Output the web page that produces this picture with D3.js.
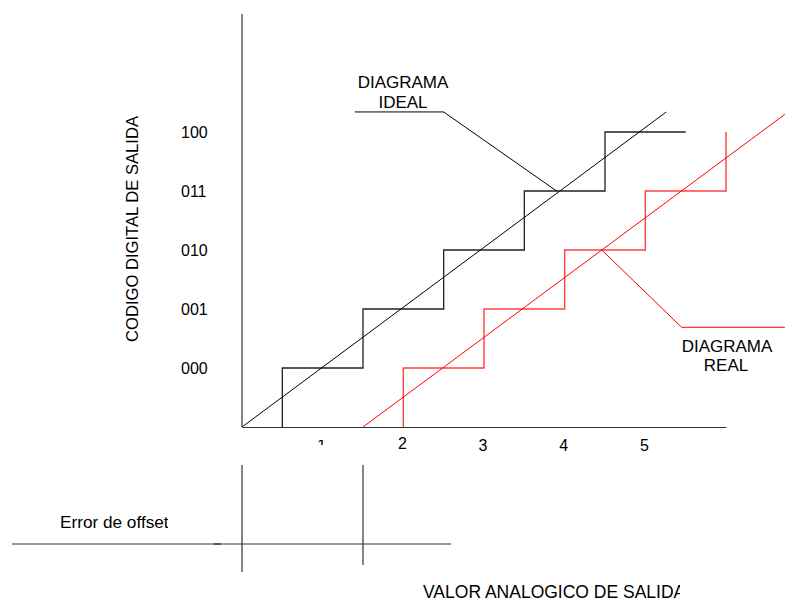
<!DOCTYPE html>
<html>
<head>
<meta charset="utf-8">
<script src="https://cdn.jsdelivr.net/npm/d3@7"></script>
<style>
  html, body { margin: 0; padding: 0; background: #fff; }
  svg { display: block; }
  text { font-family: "Liberation Sans", Arial, sans-serif; fill: #000; }
</style>
</head>
<body>
<svg id="chart" width="785" height="603"></svg>
<script>
// ---- data ----
const codeLabels = ["000", "001", "010", "011", "100"];
const codeLevels = [1, 2, 3, 4, 5];
const xTickValues = [1, 2, 3, 4, 5];
const xTickLabels = ["1", "2", "3", "4", "5"];
const idealStairX = [0.5, 0.5, 1.5, 1.5, 2.5, 2.5, 3.5, 3.5, 4.5, 4.5, 5.5];
const idealStairY = [0, 1, 1, 2, 2, 3, 3, 4, 4, 5, 5];
const realStairX = [2, 2, 3, 3, 4, 4, 5, 5, 6, 6];
const realStairY = [0, 1, 1, 2, 2, 3, 3, 4, 4, 5];
const idealLineX = [0, 5.26];
const idealLineY = [0, 5.34];
const realLineX = [1.5, 6.73];
const realLineY = [0, 5.3];
const idealLeaderX = [1.4, 2.5, 3.9];
const idealLeaderY = [5.34, 5.34, 4];
const realLeaderX = [4.46, 5.45, 6.73];
const realLeaderY = [3, 1.69, 1.69];
const offsetMarksX = [0, 1.5];

const svg = d3.select("#chart");
const x = d3.scaleLinear().domain([0, 6]).range([242, 726]);
const y = d3.scaleLinear().domain([0, 5]).range([427, 132]);

const zip = (a, b) => a.map((v, i) => [v, b[i]]);
const line = d3.line().x(d => x(d[0])).y(d => y(d[1]));

const defs = svg.append("defs");
function clip(id, x0, y0, w, h) {
  defs.append("clipPath").attr("id", id).append("rect")
    .attr("x", x0).attr("y", y0).attr("width", w).attr("height", h);
  return `url(#${id})`;
}

// axes lines
svg.append("line").attr("x1", x(0)).attr("x2", x(0)).attr("y1", 14).attr("y2", y(0))
  .attr("stroke", "#333").attr("stroke-width", 1.2);
const xAxis = d3.axisBottom(x).tickValues([]).tickSize(0).tickSizeOuter(0);
const gx = svg.append("g").attr("transform", `translate(0,${y(0)})`).call(xAxis);
gx.select(".domain").attr("stroke", "#333").attr("stroke-width", 1.2);

// x tick labels (the "1" is mostly hidden, like in the source)
const tickClip1 = clip("tickclip1", 300, 440, 40, 5);
svg.append("g").selectAll("text").data(xTickValues).join("text")
  .attr("x", d => x(d) - 1)
  .attr("y", d => d === 2 ? 449 : 451)
  .attr("text-anchor", "middle")
  .attr("font-size", 16)
  .attr("clip-path", (d, i) => i === 0 ? tickClip1 : null)
  .text((d, i) => xTickLabels[i]);

// y code labels (clipped on the right)
const yClip = clip("yclip", 150, 100, 58, 300);
svg.append("g").attr("clip-path", yClip).selectAll("text").data(codeLevels).join("text")
  .attr("x", 181)
  .attr("y", d => y(d) + 5.5)
  .attr("font-size", 16)
  .text((d, i) => codeLabels[i]);

// y title
svg.append("text")
  .attr("transform", `translate(138,229) rotate(-90)`)
  .attr("text-anchor", "middle")
  .attr("font-size", 16.6)
  .text("CODIGO DIGITAL DE SALIDA");

// ideal staircase and line
svg.append("path").attr("d", line(zip(idealStairX, idealStairY)))
  .attr("fill", "none").attr("stroke", "#222").attr("stroke-width", 1.3);
svg.append("path").attr("d", line(zip(idealLineX, idealLineY)))
  .attr("fill", "none").attr("stroke", "#000").attr("stroke-width", 1);

// real staircase and line
svg.append("path").attr("d", line(zip(realStairX, realStairY)))
  .attr("fill", "none").attr("stroke", "#ff4040").attr("stroke-width", 1.4);
svg.append("path").attr("d", line(zip(realLineX, realLineY)))
  .attr("fill", "none").attr("stroke", "#ff0000").attr("stroke-width", 1);

// leaders
svg.append("path").attr("d", line(zip(idealLeaderX, idealLeaderY)))
  .attr("fill", "none").attr("stroke", "#000").attr("stroke-width", 1);
svg.append("path").attr("d", line(zip(realLeaderX, realLeaderY)))
  .attr("fill", "none").attr("stroke", "#ff0000").attr("stroke-width", 1);

// callout labels
svg.append("text").attr("x", 403).attr("y", 88).attr("text-anchor", "middle")
  .attr("font-size", 17).text("DIAGRAMA");
svg.append("text").attr("x", 403).attr("y", 108).attr("text-anchor", "middle")
  .attr("font-size", 17).text("IDEAL");
svg.append("text").attr("x", 727).attr("y", 352).attr("text-anchor", "middle")
  .attr("font-size", 17).text("DIAGRAMA");
svg.append("text").attr("x", 726).attr("y", 371).attr("text-anchor", "middle")
  .attr("font-size", 17).text("REAL");

// offset error detail
svg.append("line").attr("x1", 12).attr("x2", 451).attr("y1", 544).attr("y2", 544)
  .attr("stroke", "#333").attr("stroke-width", 1.2);
svg.append("line").attr("x1", 214).attr("x2", 221).attr("y1", 544).attr("y2", 544)
  .attr("stroke", "#444").attr("stroke-width", 1.6);
svg.append("g").selectAll("line").data(offsetMarksX).join("line")
  .attr("x1", d => x(d)).attr("x2", d => x(d))
  .attr("y1", 465).attr("y2", (d, i) => i === 0 ? 572 : 565)
  .attr("stroke", "#333").attr("stroke-width", 1.2);

const offClip = clip("offclip", 0, 500, 168, 40);
svg.append("text").attr("x", 60).attr("y", 528).attr("font-size", 17.2)
  .attr("clip-path", offClip).text("Error de offset");

const valClip = clip("valclip", 400, 570, 280, 33);
svg.append("text").attr("x", 423).attr("y", 598).attr("font-size", 17.5)
  .attr("clip-path", valClip).text("VALOR ANALOGICO DE SALIDA");
</script>
</body>
</html>
